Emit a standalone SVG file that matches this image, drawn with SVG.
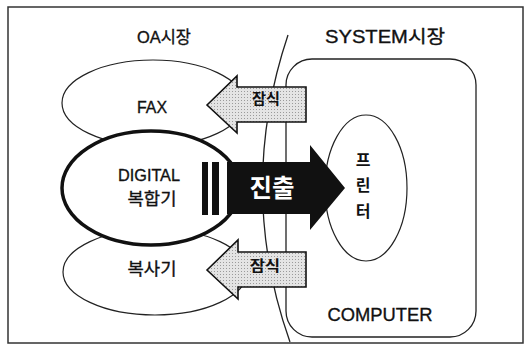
<svg xmlns="http://www.w3.org/2000/svg" width="526" height="351" viewBox="0 0 526 351">
<defs>
<pattern id="dots" width="3" height="3" patternUnits="userSpaceOnUse">
<rect width="3" height="3" fill="#e4e4e4"/>
<rect x="1" y="1" width="1" height="1" fill="#9a9a9a"/>
</pattern>
</defs>
<style>
.t{font-family:"Liberation Sans","Noto Sans CJK KR",sans-serif;fill:#111;text-anchor:middle;stroke:#111;stroke-width:0.35}
.ell{fill:#fff;stroke:#222;stroke-width:1.2}
.gray{fill:url(#dots);stroke:#111;stroke-width:1.6;stroke-linejoin:miter}
.line{fill:none;stroke:#222;stroke-width:1.3}
.b{font-weight:bold;stroke-width:0}
</style>
<rect x="8" y="7" width="515" height="336" fill="#fff" stroke="#333" stroke-width="1.5"/>
<g id="oa-label"><text class="t" x="164" y="43" font-size="17" textLength="54" lengthAdjust="spacingAndGlyphs">OA시장</text></g>
<g id="system-label"><text class="t" x="385" y="43" font-size="18" textLength="120" lengthAdjust="spacingAndGlyphs">SYSTEM시장</text></g>
<g id="fax"><ellipse class="ell" cx="153" cy="103" rx="91" ry="43"/><text class="t" x="152" y="113" font-size="17" textLength="30" lengthAdjust="spacingAndGlyphs">FAX</text></g>
<g id="copier"><ellipse class="ell" cx="155" cy="272" rx="92" ry="43"/><text class="t" x="152" y="275" font-size="17" textLength="49" lengthAdjust="spacingAndGlyphs">복사기</text></g>
<g id="digital"><ellipse cx="151" cy="188" rx="89" ry="57" fill="#fff" stroke="#111" stroke-width="3.5"/><text class="t" x="149" y="181" font-size="17" textLength="62" lengthAdjust="spacingAndGlyphs">DIGITAL</text><text class="t" x="152" y="205" font-size="17" textLength="49" lengthAdjust="spacingAndGlyphs">복합기</text></g>
<g id="system"><rect class="line" x="286" y="59" width="190" height="278" rx="26" ry="26"/><text class="t" x="380" y="321" font-size="19" textLength="105" lengthAdjust="spacingAndGlyphs">COMPUTER</text></g>
<g id="printer"><ellipse class="ell" cx="366" cy="188" rx="41" ry="73"/><text class="t b" x="363" y="166" font-size="16">프</text><text class="t b" x="363" y="191" font-size="16">린</text><text class="t b" x="363" y="217" font-size="16">터</text></g>
<g id="connectors">
<path class="line" d="M288,35 Q236,190 290,342"/>
<g id="arrow-top"><polygon class="gray" points="207,105 237,76 237,87 306,87 306,122 237,122 237,133"/><text class="t b" x="266" y="104" font-size="15" textLength="28" lengthAdjust="spacingAndGlyphs">잠식</text></g>
<g id="arrow-bottom"><polygon class="gray" points="207,270 238,240 238,252 306,252 306,287 238,287 238,299"/><text class="t b" x="265" y="271" font-size="15" textLength="30" lengthAdjust="spacingAndGlyphs">잠식</text></g>
<g id="arrow-advance"><rect x="202" y="162" width="6" height="53" fill="#111"/><rect x="212" y="162" width="7" height="53" fill="#111"/><polygon points="227,162 310,162 310,145 345,188 310,230 310,214 227,214" fill="#111"/><text class="b" x="272" y="197" font-size="25" fill="#fff" text-anchor="middle" font-family="Liberation Sans, Noto Sans CJK KR, sans-serif" textLength="45" lengthAdjust="spacingAndGlyphs">진출</text></g>
</g>
</svg>
